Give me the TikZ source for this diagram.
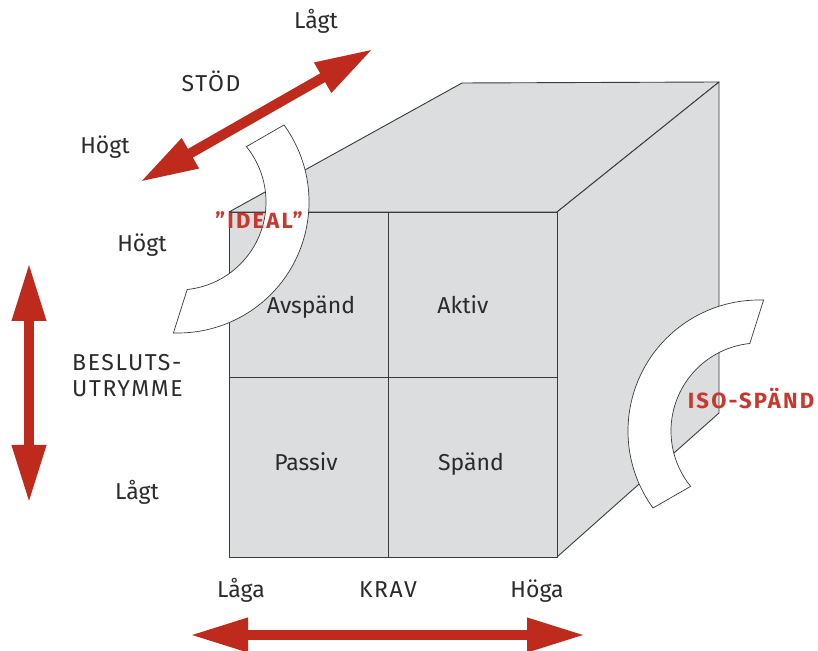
\documentclass[tikz,border=0pt]{standalone}
\usepackage{fontspec}
\setmainfont{Fira Sans}
\usetikzlibrary{arrows.meta,calc}
\definecolor{cubefill}{HTML}{DCDDDF}
\definecolor{edge}{HTML}{3A3A3A}
\definecolor{arrred}{HTML}{BE2A1C}
\definecolor{txtred}{HTML}{C8382E}
\definecolor{txt}{HTML}{2B2B2B}
\begin{document}
\begin{tikzpicture}[x=1pt,y=1pt,
  face/.style={fill=cubefill,draw=edge,line width=0.9pt,line join=round},
  divider/.style={draw=edge,line width=0.9pt},
  band/.style={fill=white,draw=edge,line width=0.7pt,line join=miter},
  lbl/.style={text=txt,font=\fontsize{23}{26}\selectfont,anchor=base,inner sep=0pt},
  caps/.style={lbl,font=\fontsize{23}{26}\selectfont\addfontfeatures{LetterSpace=7}},
  redlbl/.style={text=txtred,font=\fontsize{22}{24}\selectfont\bfseries\addfontfeatures{LetterSpace=10},anchor=base,inner sep=0pt},
  bigarrow/.style={draw=arrred,line width=10pt,{Triangle[length=58pt,width=32pt]}-{Triangle[length=58pt,width=32pt]}}
]
\useasboundingbox (0,0) rectangle (818,650);
\fill[white] (0,0) rectangle (818,650);
% cube vertices
\coordinate (ftl) at (229,438);
\coordinate (ftr) at (557,438);
\coordinate (fbr) at (557,93);
\coordinate (fbl) at (229,93);
\coordinate (btl) at (462,567);
\coordinate (btr) at (719,568);
\coordinate (bbr) at (719,237);
\coordinate (mt) at (388,438);
\coordinate (mb) at (388,93);
\coordinate (ml) at (229,273);
\coordinate (mr) at (557,273);
% faces
\path[face] (ftl) -- (btl) -- (btr) -- (ftr) -- cycle;
\path[face] (ftr) -- (btr) -- (bbr) -- (fbr) -- cycle;
\path[face] (fbl) rectangle (ftr);
\draw[divider] (mt) -- (mb);
\draw[divider] (ml) -- (mr);
% bands
\coordinate (ic) at (178,448);
\coordinate (sc) at (759,219);
\draw[band] (ic) ++(36:131) arc[start angle=36,end angle=-92,radius=131]
  -- ($(ic)+(-84:88)$) arc[start angle=-84,end angle=39,radius=88] -- cycle;
\draw[band] (sc) ++(216:131) arc[start angle=216,end angle=88,radius=131]
  -- ($(sc)+(96:88)$) arc[start angle=96,end angle=219,radius=88] -- cycle;
% arrows
\coordinate (s1) at (140,468);
\coordinate (s2) at (373,601);
\coordinate (v1) at (29,387);
\coordinate (v2) at (29,147);
\coordinate (h1) at (190,15);
\coordinate (h2) at (585,15);
\draw[bigarrow] (s1) -- (s2);
\draw[bigarrow] (v1) -- (v2);
\draw[bigarrow] (h1) -- (h2);
% labels
\node[lbl] (lagt1) at (316,621) {Lågt};
\node[caps] (stod) at (211,558) {STÖD};
\node[lbl] (hogt1) at (105,496) {Högt};
\node[lbl] (hogt2) at (142,398) {Högt};
\node[caps,anchor=base west] (bes1) at (72,279) {BESLUTS-};
\node[caps,anchor=base west] (bes2) at (72,253) {UTRYMME};
\node[lbl] (lagt2) at (137,150) {Lågt};
\node[lbl] (laga) at (241,53) {Låga};
\node[caps] (krav) at (388,53) {KRAV};
\node[lbl] (hoga) at (537,53) {Höga};
\node[lbl] (avsp) at (311,336) {Avspänd};
\node[lbl] (akt) at (463,336) {Aktiv};
\node[lbl] (pas) at (306,179) {Passiv};
\node[lbl] (spa) at (471,179) {Spänd};
\node[redlbl] (ideal) at (259,421) {”IDEAL”};
\node[redlbl] (iso) at (751,241) {ISO-SPÄND};
\end{tikzpicture}
\end{document}
